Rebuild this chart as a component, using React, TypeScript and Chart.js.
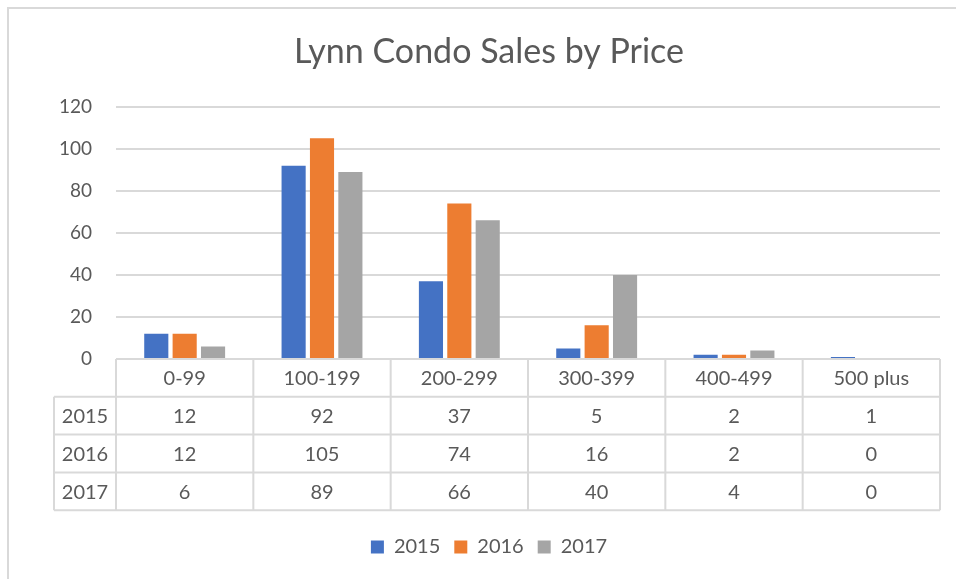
import React, { useEffect, useRef } from "react";
import { Chart, registerables } from "chart.js";

Chart.register(...registerables);

const categories = ["0-99", "100-199", "200-299", "300-399", "400-499", "500 plus"];
const seriesNames = ["2015", "2016", "2017"];
const values2015 = [12, 92, 37, 5, 2, 1];
const values2016 = [12, 105, 74, 16, 2, 0];
const values2017 = [6, 89, 66, 40, 4, 0];
const colors = ["#4472C4", "#ED7D31", "#A5A5A5"];
const titleText = "Lynn Condo Sales by Price";

const FONT = "Lato, 'Noto Sans', sans-serif";
const TEXT = "#595959";
const LINE = "#D9D9D9";
const ROW_H = 37.8;
const NAME_LEFT = 54;

const tablePlugin = {
  id: "dataTable",
  beforeDraw(chart: any) {
    const ctx = chart.ctx;
    ctx.save();
    ctx.fillStyle = "#ffffff";
    ctx.fillRect(0, 0, chart.width, chart.height);
    ctx.strokeStyle = LINE;
    ctx.lineWidth = 2;
    ctx.beginPath();
    ctx.moveTo(8, chart.height);
    ctx.lineTo(8, 8);
    ctx.lineTo(chart.width, 8);
    ctx.stroke();
    ctx.restore();
  },
  beforeDatasetsDraw(chart: any) {
    const ctx = chart.ctx;
    const area = chart.chartArea;
    const n = categories.length;
    const colW = (area.right - area.left) / n;
    const top = area.bottom;
    const nRows = seriesNames.length;
    const bottom = top + ROW_H * (nRows + 1);
    ctx.save();
    ctx.strokeStyle = LINE;
    ctx.lineWidth = 2;
    ctx.beginPath();
    ctx.moveTo(area.left, top);
    ctx.lineTo(area.right, top);
    for (let r = 1; r <= nRows + 1; r++) {
      const y = top + ROW_H * r;
      ctx.moveTo(NAME_LEFT, y);
      ctx.lineTo(area.right, y);
    }
    for (let c = 0; c <= n; c++) {
      const x = area.left + colW * c;
      ctx.moveTo(x, top);
      ctx.lineTo(x, bottom);
    }
    ctx.moveTo(NAME_LEFT, top + ROW_H);
    ctx.lineTo(NAME_LEFT, bottom);
    ctx.stroke();
    ctx.restore();
  },
  afterDraw(chart: any) {
    const ctx = chart.ctx;
    const area = chart.chartArea;
    const xs = chart.scales.x;
    const n = categories.length;
    const top = area.bottom;
    const rows = [values2015, values2016, values2017];
    ctx.save();
    ctx.fillStyle = TEXT;
    ctx.font = `20px ${FONT}`;
    ctx.textAlign = "center";
    ctx.textBaseline = "middle";
    for (let c = 0; c < n; c++) {
      const cx = xs.getPixelForValue(c);
      ctx.fillText(categories[c], cx, top + ROW_H / 2 + 1);
      for (let r = 0; r < rows.length; r++) {
        ctx.fillText(String(rows[r][c]), cx, top + ROW_H * (r + 1) + ROW_H / 2 + 1);
      }
    }
    for (let r = 0; r < rows.length; r++) {
      ctx.fillText(seriesNames[r], (NAME_LEFT + area.left) / 2, top + ROW_H * (r + 1) + ROW_H / 2 + 1);
    }
    ctx.restore();
  },
};

export default function App() {
  const ref = useRef<HTMLCanvasElement | null>(null);
  useEffect(() => {
    document.body.style.margin = "0";
    document.body.style.overflow = "hidden";
    const canvas = ref.current!;
    const chart = new Chart(canvas, {
      type: "bar",
      data: {
        labels: categories,
        datasets: [
          { label: seriesNames[0], data: values2015, backgroundColor: colors[0] },
          { label: seriesNames[1], data: values2016, backgroundColor: colors[1] },
          { label: seriesNames[2], data: values2017, backgroundColor: colors[2] },
        ],
      },
      options: {
        responsive: false,
        animation: false,
        devicePixelRatio: 1,
        layout: { padding: { left: 38, right: 16, top: 10, bottom: 12 } },
        datasets: { bar: { categoryPercentage: 0.62, barPercentage: 0.85 } },
        plugins: {
          title: {
            display: true,
            text: titleText,
            color: TEXT,
            font: { family: FONT, size: 34, weight: "normal" },
            padding: { top: 22, bottom: 34 },
          },
          legend: {
            position: "bottom",
            labels: {
              color: TEXT,
              font: { family: FONT, size: 20 },
              boxWidth: 13,
              boxHeight: 13,
              padding: 14,
            },
          },
          tooltip: { enabled: false },
        },
        scales: {
          x: {
            grid: { display: false },
            border: { display: false },
            ticks: { display: false },
            afterFit: (s: any) => {
              s.height = 164;
            },
          },
          y: {
            min: 0,
            max: 120,
            ticks: {
              stepSize: 20,
              color: TEXT,
              font: { family: FONT, size: 19 },
              padding: 24,
            },
            grid: { color: LINE, lineWidth: 2, drawTicks: false },
            border: { display: false },
            afterFit: (s: any) => {
              s.width = 78;
            },
          },
        },
      },
      plugins: [tablePlugin],
    });
    return () => chart.destroy();
  }, []);
  return <canvas ref={ref} width={956} height={579} style={{ display: "block" }} />;
}
